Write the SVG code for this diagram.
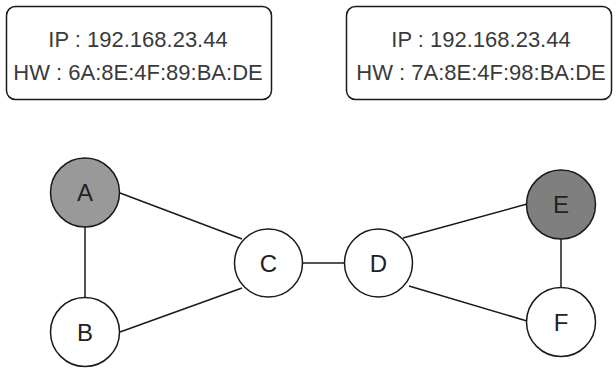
<svg xmlns="http://www.w3.org/2000/svg" width="616" height="369" viewBox="0 0 616 369">
  <style>
    .box { fill: #ffffff; stroke: #1a1a1a; stroke-width: 1.5; }
    .node { stroke: #1a1a1a; stroke-width: 1.5; }
    .white { fill: #ffffff; }
    .grey { fill: #999999; }
    .dark { fill: #7f7f7f; }
    .edge { stroke: #1a1a1a; stroke-width: 1.5; fill: none; }
    .info { font-family: "Liberation Sans", Arial, sans-serif; font-size: 22px; fill: #3a3a3a; text-anchor: middle; }
    .label { font-family: "Liberation Sans", Arial, sans-serif; font-size: 24px; fill: #222222; text-anchor: middle; dominant-baseline: central; }
  </style>

  <!-- address cards -->
  <g id="card-left">
    <rect class="box" x="6.5" y="6.5" width="265" height="93" rx="9" ry="9"/>
    <text class="info" x="138" y="47">IP : 192.168.23.44</text>
    <text class="info" x="138" y="80">HW : 6A:8E:4F:89:BA:DE</text>
  </g>
  <g id="card-right">
    <rect class="box" x="346.5" y="6.5" width="265" height="93" rx="9" ry="9"/>
    <text class="info" x="481" y="47">IP : 192.168.23.44</text>
    <text class="info" x="481" y="80">HW : 7A:8E:4F:98:BA:DE</text>
  </g>

  <!-- links between hosts -->
  <g id="connectors">
    <line class="edge" x1="85" y1="227" x2="85" y2="297"/>
    <line class="edge" x1="120" y1="193" x2="242" y2="239"/>
    <line class="edge" x1="120" y1="332" x2="242" y2="288"/>
    <line class="edge" x1="302" y1="263" x2="345" y2="263"/>
    <line class="edge" x1="403" y1="238" x2="527" y2="204"/>
    <line class="edge" x1="409" y1="286" x2="527" y2="321"/>
    <line class="edge" x1="561" y1="239" x2="561" y2="288"/>
  </g>

  <!-- hosts -->
  <g id="node-A">
    <circle class="node grey" cx="85" cy="192.5" r="34.5"/>
    <text class="label" x="85" y="192">A</text>
  </g>
  <g id="node-B">
    <circle class="node white" cx="85" cy="332" r="34.5"/>
    <text class="label" x="85" y="332">B</text>
  </g>
  <g id="node-C">
    <circle class="node white" cx="268.5" cy="263" r="34"/>
    <text class="label" x="268.5" y="263">C</text>
  </g>
  <g id="node-D">
    <circle class="node white" cx="378.5" cy="263" r="34"/>
    <text class="label" x="378.5" y="263">D</text>
  </g>
  <g id="node-E">
    <circle class="node dark" cx="561" cy="204.5" r="34.5"/>
    <text class="label" x="561" y="204">E</text>
  </g>
  <g id="node-F">
    <circle class="node white" cx="561" cy="322" r="34.5"/>
    <text class="label" x="561" y="322">F</text>
  </g>
</svg>
